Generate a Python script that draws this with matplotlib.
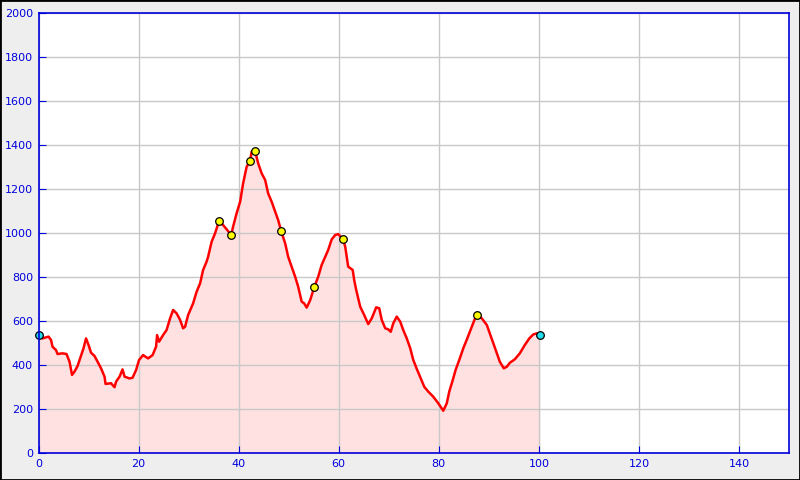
import matplotlib
matplotlib.use("Agg")
import matplotlib.pyplot as plt
from matplotlib.patches import Rectangle

# distance (km) / elevation (m)
dist = [0.0, 0.8, 2.0, 2.5, 2.8, 3.5, 3.8, 4.8, 5.6, 6.2, 6.7, 7.2, 7.8, 8.4, 9.0,
        9.5, 10.0, 10.5, 11.2, 11.8, 12.5, 13.2, 13.4, 14.5, 15.2, 15.5, 16.2, 16.8,
        17.2, 18.2, 18.8, 19.5, 20.1, 20.9, 21.9, 22.8, 23.5, 23.7, 24.1, 24.9, 25.6,
        26.3, 26.9, 27.6, 28.3, 28.9, 29.3, 29.9, 30.9, 31.6, 32.3, 32.9, 33.6, 33.9,
        34.6, 35.3, 36.1, 36.9, 37.7, 38.5, 38.9, 39.6, 40.3, 40.9, 41.6, 42.3, 42.6,
        43.3, 43.9, 44.6, 45.3, 45.9, 46.6, 47.3, 47.9, 48.5, 49.3, 49.9, 50.6, 51.3,
        51.9, 52.6, 53.1, 53.6, 54.3, 55.1, 55.9, 56.6, 57.3, 57.9, 58.6, 59.3, 59.9,
        60.9, 61.3, 61.9, 62.8, 63.1, 63.5, 64.3, 65.1, 65.9, 66.6, 67.5, 68.1, 68.6,
        69.3, 69.9, 70.4, 70.9, 71.6, 72.3, 72.9, 73.6, 74.3, 74.9, 75.7, 76.4, 77.1,
        77.9, 78.9, 79.9, 80.9, 81.6, 82.1, 82.8, 83.4, 84.1, 84.9, 85.7, 86.6, 87.2,
        87.7, 88.6, 89.6, 90.2, 90.9, 91.6, 92.2, 93.0, 93.6, 94.2, 95.2, 96.2, 97.2,
        98.1, 98.9, 99.6, 100.2]
elev = [536, 521, 529, 514, 483, 468, 450, 453, 450, 415, 355, 370, 395, 435, 476,
        521, 491, 456, 441, 415, 385, 347, 314, 317, 299, 324, 347, 380,
        347, 339, 342, 377, 423, 445, 430, 445, 483, 536, 506, 536, 559,
        612, 650, 635, 605, 567, 574, 627, 680, 733, 771, 832, 870, 892,
        960, 999, 1056, 1036, 1014, 991, 1029, 1090, 1142, 1226, 1301, 1329, 1370,
        1372, 1317, 1271, 1241, 1180, 1142, 1097, 1059, 1009, 953, 892, 847, 801,
        756, 688, 680, 661, 695, 753, 801, 855, 892, 923, 971, 991, 995,
        971, 938, 847, 832, 786, 741, 665, 627, 586, 612, 662, 658, 605,
        567, 562, 551, 589, 620, 597, 559, 521, 476, 423, 377, 339, 301,
        279, 256, 226, 192, 226, 279, 332, 380, 423, 476, 521, 574, 609,
        627, 612, 582, 544, 499, 453, 415, 385, 392, 410, 426, 453, 491,
        521, 539, 544, 536]

# waypoints
wp_x = [36.1, 38.5, 42.3, 43.3, 48.5, 55.1, 60.9, 87.7]
wp_y = [1056, 991, 1329, 1372, 1009, 753, 971, 627]
end_x = [0.0, 100.2]
end_y = [536, 536]

blue = "#0000dd"

fig = plt.figure(figsize=(8, 4.8), dpi=100, facecolor="#eeeeee")
fig.patches.append(Rectangle((0, 0), 1, 1, transform=fig.transFigure,
                             fill=False, edgecolor="black", linewidth=2))
ax = fig.add_axes([38.5 / 800, 27 / 480, 750.5 / 800, 440 / 480])
ax.set_facecolor("white")

ax.fill_between(dist, elev, 0, color="#ffe1e1", linewidth=0, zorder=1)
ax.plot(dist, elev, color="red", linewidth=1.8, zorder=3)
ax.scatter(wp_x, wp_y, s=30, color="yellow", edgecolors="black", linewidths=0.9, zorder=4)
ax.scatter(end_x, end_y, s=30, color="#22ddee", edgecolors="black", linewidths=0.9,
           zorder=4, clip_on=False)

ax.set_xlim(0, 150)
ax.set_ylim(0, 2000)
ax.set_xticks(range(0, 141, 20))
ax.set_yticks(range(0, 2001, 200))
ax.grid(True, color="#c8c8c8", linewidth=1, zorder=2)
ax.set_axisbelow(False)
for s in ax.spines.values():
    s.set_color(blue)
    s.set_linewidth(1.2)
    s.set_zorder(5)
ax.tick_params(direction="in", length=5, color=blue, labelcolor=blue, labelsize=8,
               top=False, right=False, pad=4)

fig.savefig("out.png", facecolor=fig.get_facecolor())
